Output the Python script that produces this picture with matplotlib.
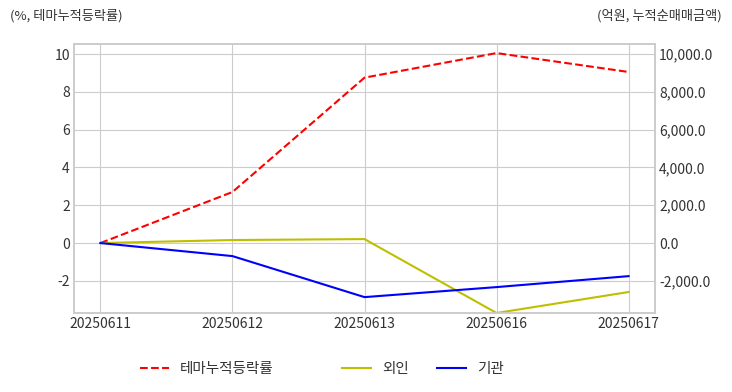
import matplotlib.pyplot as plt
from matplotlib.ticker import FuncFormatter

plt.rcParams['font.family'] = ['Noto Sans CJK KR', 'DejaVu Sans']
plt.rcParams['axes.unicode_minus'] = False

dates = ["20250611", "20250612", "20250613", "20250616", "20250617"]
theme_rate = [0.0, 2.7, 8.75, 10.05, 9.05]
foreign = [0.0, 160.0, 210.0, -3700.0, -2590.0]
institution = [0.0, -690.0, -2860.0, -2330.0, -1750.0]

grid_color = "#cccccc"
text_color = "#333333"

fig = plt.figure(figsize=(7.32, 3.92), dpi=100)
ax = fig.add_axes([74 / 732, 1 - 313 / 392, (655 - 74) / 732, (313 - 44) / 392])
ax2 = ax.twinx()

x = list(range(len(dates)))
l1, = ax.plot(x, theme_rate, color="red", linestyle="--", linewidth=1.5, label="테마누적등락률")
l2, = ax2.plot(x, foreign, color="y", linewidth=1.5, label="외인")
l3, = ax2.plot(x, institution, color="b", linewidth=1.5, label="기관")

ax.set_xlim(-0.2, 4.2)
ax.set_ylim(-3.7, 10.53)
ax2.set_ylim(-3700, 10530)
ax.set_yticks([-2, 0, 2, 4, 6, 8, 10])
ax2.set_yticks([-2000, 0, 2000, 4000, 6000, 8000, 10000])
ax2.yaxis.set_major_formatter(FuncFormatter(lambda v, p: f"{v:,.1f}"))
ax.set_xticks(x)
ax.set_xticklabels(dates)

ax.grid(True, color=grid_color, linewidth=0.8)
ax.set_axisbelow(True)
for a in (ax, ax2):
    for s in a.spines.values():
        s.set_color(grid_color)
        s.set_linewidth(1.2)
    a.tick_params(length=0, labelsize=10, colors=text_color, pad=3)

fig.text(10 / 732, 1 - 16 / 392, "(%, 테마누적등락률)", fontsize=9.5, color=text_color, va="center", ha="left")
fig.text(722 / 732, 1 - 16 / 392, "(억원, 누적순매매금액)", fontsize=9.5, color=text_color, va="center", ha="right")

leg_kw = dict(loc="center left", frameon=False, fontsize=10.5, handlelength=2.0,
              handletextpad=0.75, borderpad=0, borderaxespad=0, labelcolor=text_color)
leg1 = fig.legend(handles=[l1], bbox_to_anchor=(140 / 732, 1 - 369 / 392), **leg_kw)
leg2 = fig.legend(handles=[l2, l3], bbox_to_anchor=(342 / 732, 1 - 369 / 392), ncol=2,
                  columnspacing=1.9, **leg_kw)

fig.savefig("out.png", dpi=100)
